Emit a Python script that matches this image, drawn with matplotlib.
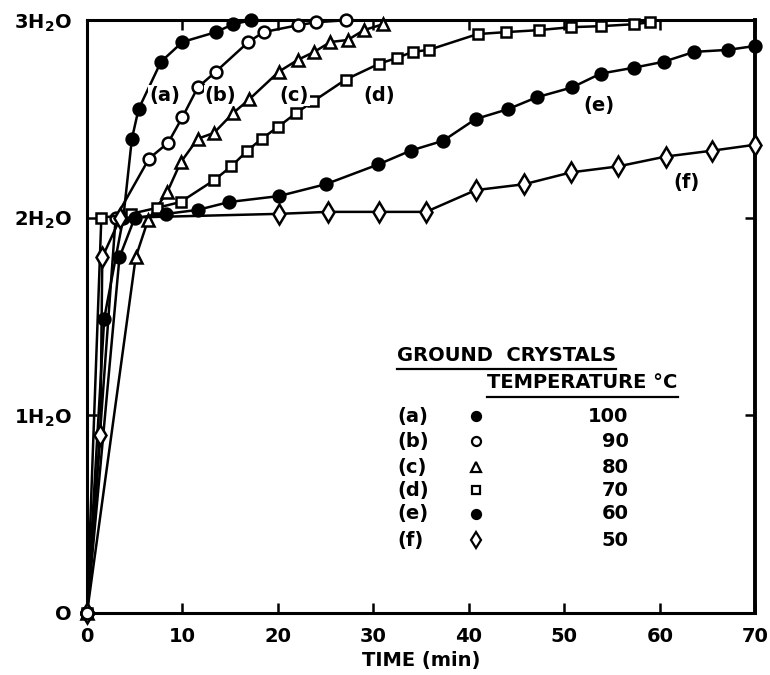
import matplotlib
matplotlib.use("Agg")
import matplotlib.pyplot as plt

# dehydration curves of ground crystals, water content vs time
a_t = [0, 1.8, 3.8, 4.7, 5.4, 7.75, 10.0, 13.5, 15.3, 17.2]
a_w = [0, 1.49, 2.0, 2.40, 2.55, 2.79, 2.89, 2.94, 2.98, 3.0]

b_t = [0, 3.0, 6.5, 8.5, 10.0, 11.6, 13.5, 16.9, 18.5, 22.1, 24.0, 27.1]
b_w = [0, 2.0, 2.30, 2.38, 2.51, 2.66, 2.74, 2.89, 2.94, 2.975, 2.99, 3.0]

c_t = [0, 5.1, 6.4, 8.4, 9.8, 11.6, 13.3, 15.3, 17.0, 20.1, 22.1, 23.8, 25.5, 27.3, 29.0, 31.0]
c_w = [0, 1.80, 1.99, 2.13, 2.28, 2.40, 2.43, 2.53, 2.60, 2.74, 2.80, 2.84, 2.89, 2.90, 2.95, 2.98]

d_t = [0, 1.5, 4.6, 7.3, 9.8, 13.3, 15.1, 16.8, 18.3, 20.0, 21.9, 23.7, 27.1, 30.6,
       32.5, 34.1, 35.8, 40.9, 43.9, 47.3, 50.7, 53.8, 57.3, 59.0]
d_w = [0, 2.0, 2.02, 2.05, 2.08, 2.19, 2.26, 2.34, 2.40, 2.46, 2.53, 2.59, 2.70, 2.78,
       2.81, 2.84, 2.85, 2.93, 2.94, 2.95, 2.965, 2.97, 2.98, 2.99]

e_t = [0, 3.4, 5.0, 8.3, 11.6, 14.9, 20.1, 25.0, 30.5, 33.9, 37.3, 40.7, 44.1, 47.1,
       50.8, 53.8, 57.3, 60.4, 63.6, 67.1, 70.0]
e_w = [0, 1.80, 2.0, 2.02, 2.04, 2.08, 2.11, 2.17, 2.27, 2.34, 2.39, 2.50, 2.55, 2.61,
       2.66, 2.73, 2.76, 2.79, 2.84, 2.85, 2.87]

f_t = [0, 1.4, 1.6, 3.5, 20.1, 25.2, 30.6, 35.5, 40.7, 45.8, 50.7, 55.6, 60.6, 65.5, 70.0]
f_w = [0, 0.9, 1.8, 2.0, 2.02, 2.03, 2.03, 2.03, 2.14, 2.17, 2.23, 2.26, 2.31, 2.34, 2.37]

curve_ids = ['(a)', '(b)', '(c)', '(d)', '(e)', '(f)']
temps = ['100', '90', '80', '70', '60', '50']

# label spot for each curve (time, water)
label_pos = [(8.1, 2.62), (14.0, 2.62), (21.7, 2.62), (30.6, 2.62), (53.6, 2.57), (62.8, 2.18)]

yticks = [0, 1, 2, 3]
ytick_labels = ['O', r'1H$_2$O', r'2H$_2$O', r'3H$_2$O']
xticks = [0, 10, 20, 30, 40, 50, 60, 70]

styles = [
    dict(marker='o', mfc='black', ms=8.5),
    dict(marker='o', mfc='white', ms=8.5),
    dict(marker='^', mfc='white', ms=8.5),
    dict(marker='s', mfc='white', ms=7.5),
    dict(marker='o', mfc='black', ms=8.5),
    dict(marker='d', mfc='white', ms=10),
]

plt.rcParams['font.family'] = ['DejaVu Sans']
plt.rcParams['font.weight'] = 'bold'
plt.rcParams['mathtext.default'] = 'bf'

FS = 14

fig = plt.figure(figsize=(7.7, 6.75), dpi=100)
ax = fig.add_axes([0.113, 0.092, 0.868, 0.878])

series = [(a_t, a_w), (b_t, b_w), (c_t, c_w), (d_t, d_w), (e_t, e_w), (f_t, f_w)]
for (t, w), st in zip(series, styles):
    ax.plot(t, w, color='black', lw=1.8, mec='black', mew=1.8, clip_on=False, zorder=3, **st)

# open circle sitting at the origin
ax.plot([0], [0], marker='o', ms=8.5, mfc='white', mec='black', mew=1.8, clip_on=False, zorder=5)

for lab, (x, y) in zip(curve_ids, label_pos):
    ax.text(x, y, lab, fontsize=FS, fontweight='bold', ha='center', va='center',
            bbox=dict(facecolor='white', edgecolor='none', pad=0.5), zorder=4)

ax.set_xlim(0, 70)
ax.set_ylim(0, 3)
ax.set_xticks(xticks)
ax.set_yticks(yticks)
ax.set_yticklabels(ytick_labels)
ax.tick_params(direction='in', length=7, width=1.8, top=True, right=True, labelsize=FS)
ax.tick_params(axis='x', pad=10)
ax.tick_params(axis='y', pad=11)
for lbl in ax.get_xticklabels() + ax.get_yticklabels():
    lbl.set_fontweight('bold')
for side in ['left', 'bottom', 'top']:
    ax.spines[side].set_linewidth(2.2)
ax.spines['right'].set_linewidth(2.8)

ax.set_xlabel('TIME (min)', fontsize=FS, fontweight='bold', labelpad=4)

# key table in the lower right
T = ax.transAxes
h1 = ax.text(0.464, 0.435, 'GROUND  CRYSTALS', transform=T, fontsize=FS,
             fontweight='bold', ha='left', va='center')
h2 = ax.text(0.599, 0.388, 'TEMPERATURE °C', transform=T, fontsize=FS,
             fontweight='bold', ha='left', va='center')
rows_y = [0.332, 0.290, 0.246, 0.207, 0.167, 0.123]
for lab, temp, st, y in zip(curve_ids, temps, styles, rows_y):
    ax.text(0.464, y, lab, transform=T, fontsize=FS, fontweight='bold', ha='left', va='center')
    ax.plot([0.582], [y], transform=T, color='black', mec='black', mew=1.6,
            marker=st['marker'], mfc=st['mfc'], ms=st['ms'] - 2, ls='none')
    ax.text(0.810, y, temp, transform=T, fontsize=FS, fontweight='bold', ha='right', va='center')

# underline the two headings
fig.canvas.draw()
inv = T.inverted()
for h, y in [(h1, 0.411), (h2, 0.364)]:
    bb = h.get_window_extent()
    x0 = inv.transform((bb.x0, bb.y0))[0]
    x1 = inv.transform((bb.x1, bb.y0))[0]
    ax.plot([x0, x1], [y, y], transform=T, color='black', lw=1.6)

fig.savefig('out.png', dpi=100)
